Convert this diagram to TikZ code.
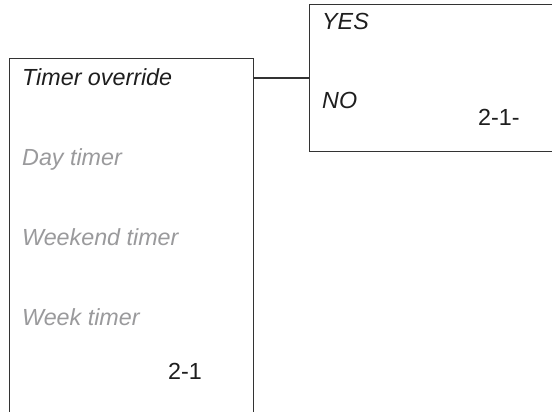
\documentclass[tikz,border=0pt]{standalone}
\usepackage{fontspec}
\setmainfont{Liberation Sans}
\begin{document}
\begin{tikzpicture}[x=1pt,y=-1pt,
  boxst/.style={draw=linec,line width=1.1pt,rectangle,inner sep=0pt,anchor=north west},
  lbl/.style={anchor=base west,inner sep=0pt,text=textc,font=\fontsize{23.3}{27}\selectfont\itshape},
  dim/.style={lbl,text=grayc},
  code/.style={anchor=base west,inner sep=0pt,text=textc,font=\fontsize{23.3}{27}\selectfont}]
\definecolor{linec}{HTML}{333333}
\definecolor{textc}{HTML}{1E1E1E}
\definecolor{grayc}{HTML}{9A9A9C}
\useasboundingbox (0,0) rectangle (552,412);
\clip (0,0) rectangle (552,412);
\fill[white] (0,0) rectangle (552,412);
\node[boxst,minimum width=244pt,minimum height=370pt] (lbox) at (9,58) {};
\node[boxst,minimum width=260pt,minimum height=147pt] (rbox) at (309,4) {};
\draw[draw=linec,line width=1.1pt] ([yshift=-20pt]lbox.north east) -- ([yshift=-20pt]lbox.north east -| rbox.west);
\node[lbl] (t1) at (22,85) {Timer override};
\node[dim] (t2) at (22,165) {Day timer};
\node[dim] (t3) at (22,245) {Weekend timer};
\node[dim] (t4) at (22,325) {Week timer};
\node[code] (c1) at (168,379) {2-1};
\node[lbl] (y1) at (322,30) {YES};
\node[lbl] (n1) at (322,109) {NO};
\node[code] (c2) at (478,125) {2-1-};
\end{tikzpicture}
\end{document}
